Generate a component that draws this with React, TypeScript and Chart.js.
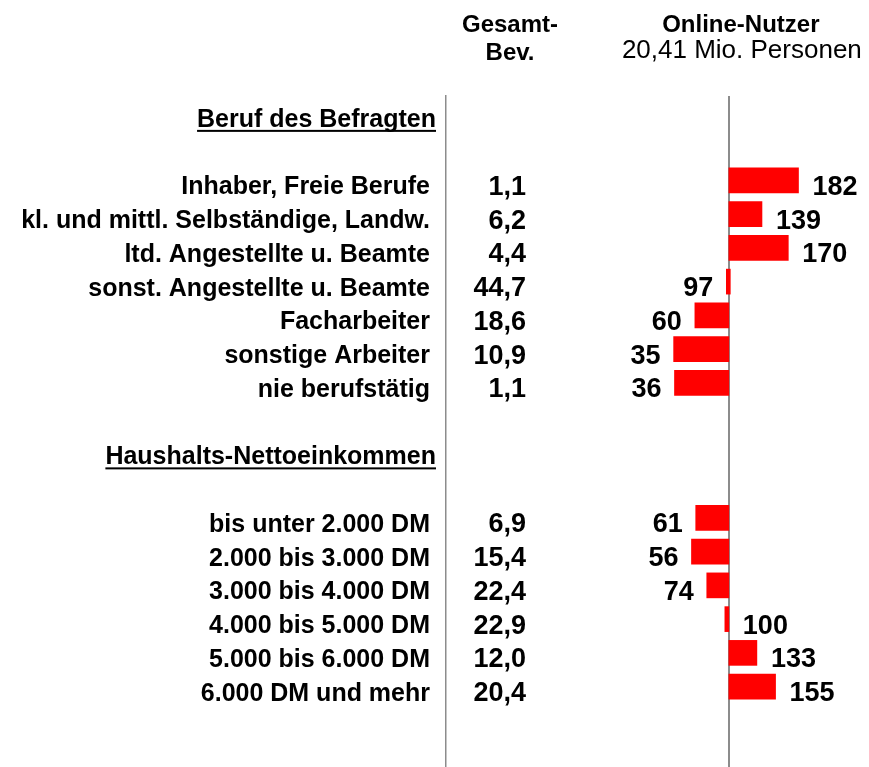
import React, { useEffect, useRef } from "react";
import { Chart, registerables } from "chart.js";

Chart.register(...registerables);

// ---- data ----
const groupTitles = ["Beruf des Befragten", "Haushalts-Nettoeinkommen"];

const occupationLabels = [
  "Inhaber, Freie Berufe",
  "kl. und mittl. Selbständige, Landw.",
  "ltd. Angestellte u. Beamte",
  "sonst. Angestellte u. Beamte",
  "Facharbeiter",
  "sonstige Arbeiter",
  "nie berufstätig",
];
const occupationShare = [1.1, 6.2, 4.4, 44.7, 18.6, 10.9, 1.1];
const occupationIndex = [182, 139, 170, 97, 60, 35, 36];

const incomeLabels = [
  "bis unter 2.000 DM",
  "2.000 bis 3.000 DM",
  "3.000 bis 4.000 DM",
  "4.000 bis 5.000 DM",
  "5.000 bis 6.000 DM",
  "6.000 DM und mehr",
];
const incomeShare = [6.9, 15.4, 22.4, 22.9, 12.0, 20.4];
const incomeIndex = [61, 56, 74, 100, 133, 155];

const headerCol1 = ["Gesamt-", "Bev."];
const headerCol2Title = "Online-Nutzer";
const headerCol2Sub = "20,41 Mio. Personen";
const baseIndex = 100;

type Row = { label: string; heading?: boolean; share?: number; index?: number };

const rows: Row[] = [
  { label: groupTitles[0], heading: true },
  { label: "" },
  ...occupationLabels.map((l, i) => ({ label: l, share: occupationShare[i], index: occupationIndex[i] })),
  { label: "" },
  { label: groupTitles[1], heading: true },
  { label: "" },
  ...incomeLabels.map((l, i) => ({ label: l, share: incomeShare[i], index: incomeIndex[i] })),
  { label: "" },
  { label: "" },
];

const FONT = "'Liberation Sans', Arial, Helvetica, sans-serif";
const fmt = (v: number) => v.toFixed(1).replace(".", ",");

const overlayPlugin = {
  id: "overlay",
  afterDatasetsDraw(chart: any) {
    const { ctx, chartArea, scales } = chart;
    const x = scales.x;
    const y = scales.y;
    ctx.save();
    ctx.fillStyle = "#000";

    // column headers
    const colX = chartArea.left + 64;
    const onlineX = x.getPixelForValue(baseIndex) + 12;
    ctx.textAlign = "center";
    ctx.textBaseline = "alphabetic";
    ctx.font = `bold 24px ${FONT}`;
    ctx.fillText(headerCol1[0], colX, 32);
    ctx.fillText(headerCol1[1], colX, 60);
    ctx.fillText(headerCol2Title, onlineX, 32);
    ctx.font = `26px ${FONT}`;
    ctx.fillText(headerCol2Sub, onlineX + 1, 58);

    rows.forEach((r, i) => {
      const yc = y.getPixelForValue(i);
      if (r.heading) {
        ctx.font = `bold 25px ${FONT}`;
        ctx.textAlign = "right";
        const right = chartArea.left - 10;
        const base = yc + 14;
        ctx.fillText(r.label, right, base);
        const w = ctx.measureText(r.label).width;
        ctx.fillRect(right - w, base + 3, w, 2);
      } else if (r.share != null) {
        ctx.font = `bold 27px ${FONT}`;
        ctx.textAlign = "right";
        ctx.fillText(fmt(r.share), chartArea.left + 80, yc + 14.5);
      }
    });

    // bar value labels
    const meta = chart.getDatasetMeta(0);
    ctx.font = `bold 27px ${FONT}`;
    meta.data.forEach((el: any, i: number) => {
      const r = rows[i];
      if (r.index == null) return;
      const p = el.getProps(["x", "y", "base"], true);
      const hi = Math.max(p.x, p.base);
      const lo = Math.min(p.x, p.base);
      if (r.index >= baseIndex) {
        ctx.textAlign = "left";
        ctx.fillText(String(r.index), hi + 14, p.y + 14.5);
      } else {
        ctx.textAlign = "right";
        ctx.fillText(String(r.index), lo - 13, p.y + 14.5);
      }
    });
    ctx.restore();
  },
};

export default function App() {
  const ref = useRef<HTMLCanvasElement>(null);
  useEffect(() => {
    if (!ref.current) return;
    const chart = new Chart(ref.current, {
      type: "bar",
      data: {
        labels: rows.map((r) => r.label),
        datasets: [
          {
            data: rows.map((r) => (r.index != null ? [baseIndex, r.index] : null)) as any,
            backgroundColor: "#ff0000",
            borderWidth: 0,
            barThickness: 25,
            minBarLength: 4,
          },
        ],
      },
      options: {
        indexAxis: "y",
        responsive: false,
        animation: false,
        devicePixelRatio: 1,
        layout: { padding: { top: 96, left: 0, right: 0, bottom: 0 } },
        plugins: { legend: { display: false }, tooltip: { enabled: false }, title: { display: false } },
        scales: {
          x: {
            type: "linear",
            min: -233,
            max: 265,
            grid: { color: "#8c8c8c", lineWidth: 2, drawTicks: false },
            border: { display: false },
            ticks: { display: false },
            afterBuildTicks: (s: any) => {
              s.ticks = [{ value: baseIndex }];
            },
            afterFit: (s: any) => {
              s.height = 0;
              s.paddingLeft = 0;
              s.paddingRight = 0;
            },
          },
          y: {
            type: "category",
            grid: { display: false, drawTicks: false },
            border: { display: true, color: "#8c8c8c", width: 1.5 },
            ticks: {
              autoSkip: false,
              color: "#000",
              padding: 16,
              labelOffset: 7,
              font: { family: FONT, size: 25, weight: "bold" },
              callback: (_v: any, i: number) => (rows[i].heading ? "" : rows[i].label),
            },
            afterFit: (s: any) => {
              s.width = 446;
              s.paddingTop = 0;
              s.paddingBottom = 0;
            },
          },
        },
      },
      plugins: [overlayPlugin],
    });
    return () => chart.destroy();
  }, []);

  return (
    <div style={{ position: "fixed", left: 0, top: 0, width: 869, height: 767, overflow: "hidden", background: "#fff" }}>
      <canvas ref={ref} width={869} height={771} style={{ display: "block", width: 869, height: 771 }} />
    </div>
  );
}
